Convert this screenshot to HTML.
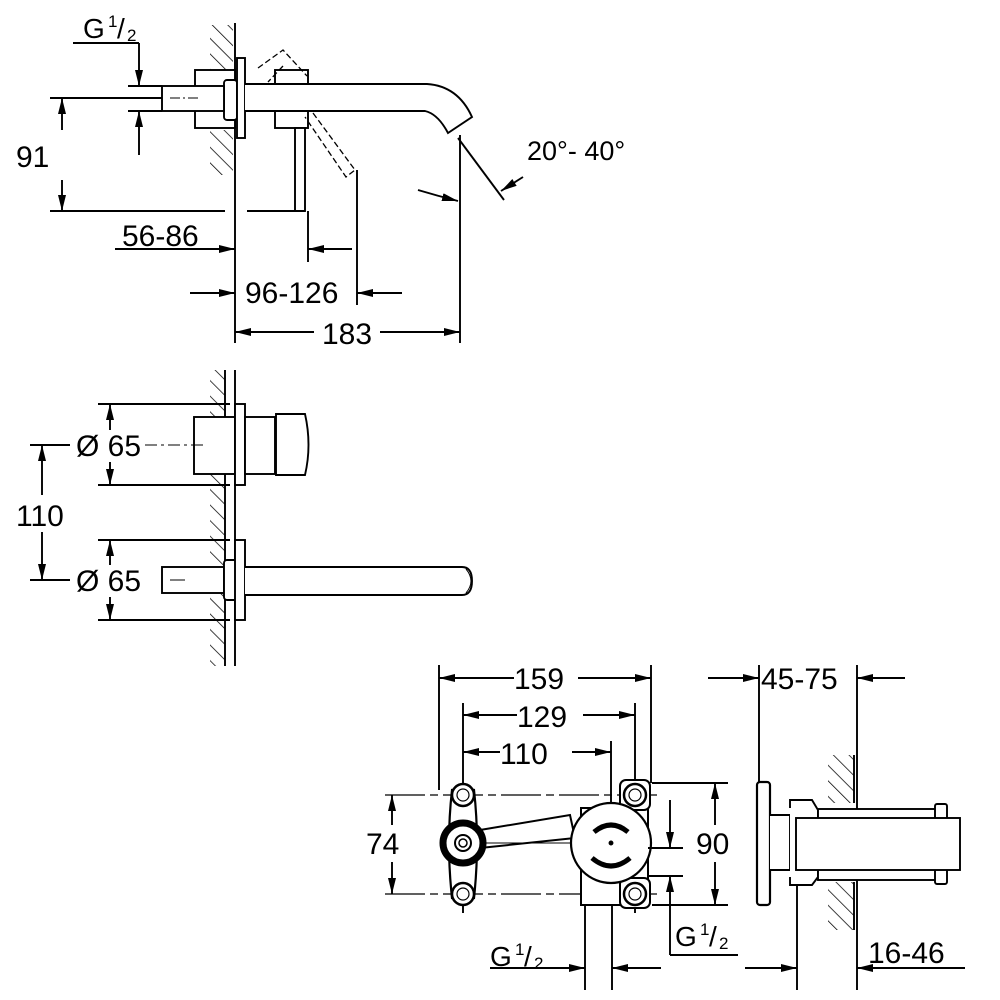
<!DOCTYPE html>
<html><head><meta charset="utf-8"><style>
html,body{margin:0;padding:0;background:#fff}
svg{display:block}
text{font-family:"Liberation Sans",sans-serif;fill:#000}
</style></head><body>
<svg width="1000" height="1000" viewBox="0 0 1000 1000" xmlns="http://www.w3.org/2000/svg">
<defs>
<marker id="a" viewBox="0 0 16 8" refX="16" refY="4" markerWidth="16" markerHeight="8" markerUnits="userSpaceOnUse" orient="auto-start-reverse"><path d="M0,0 L16,4 L0,8 z" fill="#000"/></marker>
<pattern id="h" width="11" height="11" patternUnits="userSpaceOnUse" patternTransform="rotate(-45)"><line x1="0" y1="0" x2="0" y2="11" stroke="#000" stroke-width="1.5"/></pattern>
</defs>
<g stroke="#000" stroke-width="1.9" fill="none">
<!-- ===== TOP VIEW ===== -->
<line x1="235" y1="23" x2="235" y2="343"/>
<rect x="210" y="25" width="23" height="45" fill="url(#h)" stroke="none"/>
<rect x="210" y="130" width="23" height="45" fill="url(#h)" stroke="none"/>
<rect x="195" y="70" width="40" height="58" fill="#fff"/>
<rect x="224" y="80" width="13" height="40" rx="3" fill="#fff"/>
<rect x="237" y="58" width="8" height="80" fill="#fff"/>
<rect x="162" y="86" width="62" height="25" fill="#fff"/>
<line x1="170" y1="98" x2="200" y2="98" stroke-dasharray="10,3,2,3" stroke-width="1"/>
<rect x="275" y="70" width="33" height="58" fill="#fff"/>
<path d="M245,84 L427,84 Q458,86 472,117 L448,133 Q438,114 425,111 L245,111" fill="#fff"/>
<rect x="295" y="128" width="10" height="83" fill="#fff"/>
<path d="M258,68 L283,50 L307,76 M283,66 L268,82" stroke-dasharray="6,3" stroke-width="1.3"/>
<path d="M313,113 L355,170 L346,177 L305,117" stroke-dasharray="6,3" stroke-width="1.3"/>
<!-- G1/2 dims -->
<line x1="73" y1="43" x2="139" y2="43"/>
<line x1="139" y1="43" x2="139" y2="86" marker-end="url(#a)"/>
<line x1="139" y1="155" x2="139" y2="111" marker-end="url(#a)"/>
<line x1="128" y1="86" x2="162" y2="86"/>
<line x1="128" y1="111" x2="162" y2="111"/>
<!-- 91 -->
<line x1="50" y1="98" x2="162" y2="98"/>
<line x1="50" y1="211" x2="225" y2="211"/>
<line x1="247" y1="211" x2="305" y2="211"/>
<line x1="62" y1="130" x2="62" y2="98" marker-end="url(#a)"/>
<line x1="62" y1="180" x2="62" y2="211" marker-end="url(#a)"/>
<line x1="308" y1="211" x2="308" y2="262"/>
<line x1="357" y1="170" x2="357" y2="305"/>
<line x1="460" y1="135" x2="460" y2="343"/>
<line x1="115" y1="249" x2="235" y2="249" marker-end="url(#a)"/>
<line x1="352" y1="249" x2="308" y2="249" marker-end="url(#a)"/>
<line x1="190" y1="293" x2="235" y2="293" marker-end="url(#a)"/>
<line x1="402" y1="293" x2="357" y2="293" marker-end="url(#a)"/>
<line x1="235" y1="332" x2="314" y2="332" marker-start="url(#a)"/>
<line x1="380" y1="332" x2="460" y2="332" marker-end="url(#a)"/>
<line x1="458" y1="138" x2="504" y2="200"/>
<line x1="523" y1="177" x2="501" y2="191" marker-end="url(#a)"/>
<path d="M418,190 Q438,196 458,201" marker-end="url(#a)"/>

<!-- ===== MIDDLE VIEW ===== -->
<rect x="210" y="370" width="15" height="296" fill="url(#h)" stroke="none"/>
<line x1="225" y1="370" x2="225" y2="666"/>
<line x1="235" y1="370" x2="235" y2="666"/>
<rect x="194" y="417" width="41" height="57" fill="#fff"/>
<rect x="235" y="404" width="10" height="81" fill="#fff"/>
<rect x="245" y="417" width="30" height="57" fill="#fff"/>
<path d="M276,414 L305,414 Q312,445 305,475 L276,475 z" fill="#fff"/>
<line x1="145" y1="445" x2="205" y2="445" stroke-dasharray="12,4,3,4" stroke-width="1"/>
<line x1="98" y1="404" x2="230" y2="404"/>
<line x1="98" y1="485" x2="230" y2="485"/>
<line x1="110" y1="430" x2="110" y2="404" marker-end="url(#a)"/>
<line x1="110" y1="462" x2="110" y2="485" marker-end="url(#a)"/>
<line x1="30" y1="445" x2="70" y2="445"/>
<line x1="30" y1="580" x2="70" y2="580"/>
<line x1="42" y1="495" x2="42" y2="445" marker-end="url(#a)"/>
<line x1="42" y1="532" x2="42" y2="580" marker-end="url(#a)"/>
<rect x="162" y="567" width="62" height="26" fill="#fff"/>
<rect x="224" y="560" width="13" height="40" rx="3" fill="#fff"/>
<rect x="235" y="540" width="10" height="80" fill="#fff"/>
<path d="M245,567 L462,567 Q472,567 472,581 Q472,595 462,595 L245,595" fill="#fff"/>
<path d="M466,569 Q476,581 466,593" stroke-width="1"/>
<line x1="170" y1="580" x2="185" y2="580" stroke-width="1"/>
<line x1="98" y1="540" x2="230" y2="540"/>
<line x1="98" y1="620" x2="230" y2="620"/>
<line x1="110" y1="565" x2="110" y2="540" marker-end="url(#a)"/>
<line x1="110" y1="597" x2="110" y2="620" marker-end="url(#a)"/>

<!-- ===== BOTTOM FRONT VIEW ===== -->
<line x1="439" y1="665" x2="439" y2="790"/>
<line x1="651" y1="665" x2="651" y2="783"/>
<line x1="463" y1="703" x2="463" y2="913"/>
<line x1="635" y1="703" x2="635" y2="913"/>
<line x1="611" y1="741" x2="611" y2="843"/>
<line x1="439" y1="678" x2="514" y2="678" marker-start="url(#a)"/>
<line x1="578" y1="678" x2="651" y2="678" marker-end="url(#a)"/>
<line x1="463" y1="715" x2="517" y2="715" marker-start="url(#a)"/>
<line x1="583" y1="715" x2="635" y2="715" marker-end="url(#a)"/>
<line x1="463" y1="752" x2="500" y2="752" marker-start="url(#a)"/>
<line x1="572" y1="752" x2="611" y2="752" marker-end="url(#a)"/>
<line x1="385" y1="795" x2="660" y2="795" stroke-dasharray="40,5,8,5" stroke-width="1.2"/>
<line x1="385" y1="894" x2="660" y2="894" stroke-dasharray="40,5,8,5" stroke-width="1.2"/>
<line x1="392" y1="825" x2="392" y2="795" marker-end="url(#a)"/>
<line x1="392" y1="862" x2="392" y2="894" marker-end="url(#a)"/>
<path d="M452,790 Q446,843 452,898 L474,898 Q480,843 474,790 z" fill="#fff" stroke-width="2.2"/>
<path d="M480,830 L570,815 L575,838 L480,848" fill="#fff" stroke-width="2"/>
<line x1="482" y1="843" x2="572" y2="843" stroke-width="1"/>
<rect x="581" y="808" width="67" height="97" fill="#fff" stroke-width="2"/>
<rect x="620" y="780" width="30" height="30" rx="6" fill="#fff" stroke-width="2"/>
<rect x="620" y="878" width="30" height="30" rx="6" fill="#fff" stroke-width="2"/>
<circle cx="611" cy="843" r="40" fill="#fff" stroke-width="2.2"/>
<path d="M594,832 Q611,818 628,832" stroke-width="5"/>
<path d="M592,858 Q611,874 630,858" stroke-width="5"/>
<circle cx="611" cy="843" r="1.5" fill="#000"/>
<circle cx="463" cy="843" r="20" fill="#fff" stroke-width="7"/>
<circle cx="463" cy="843" r="8" stroke-width="2"/>
<circle cx="463" cy="843" r="4" stroke-width="1.5"/>
<g stroke-width="2.5" fill="#fff">
<circle cx="463" cy="795" r="11"/><circle cx="463" cy="894" r="11"/>
<circle cx="635" cy="795" r="11"/><circle cx="635" cy="894" r="11"/>
</g>
<g stroke-width="1.2">
<circle cx="463" cy="795" r="6"/><circle cx="463" cy="894" r="6"/>
<circle cx="635" cy="795" r="6"/><circle cx="635" cy="894" r="6"/>
</g>
<line x1="652" y1="783" x2="728" y2="783"/>
<line x1="652" y1="905" x2="728" y2="905"/>
<line x1="715" y1="825" x2="715" y2="783" marker-end="url(#a)"/>
<line x1="715" y1="862" x2="715" y2="905" marker-end="url(#a)"/>
<line x1="648" y1="848" x2="683" y2="848"/>
<line x1="648" y1="876" x2="683" y2="876"/>
<line x1="670" y1="800" x2="670" y2="848" marker-end="url(#a)"/>
<line x1="670" y1="955" x2="670" y2="876" marker-end="url(#a)"/>
<line x1="670" y1="955" x2="738" y2="955"/>
<line x1="585" y1="905" x2="585" y2="990"/>
<line x1="612" y1="905" x2="612" y2="990"/>
<line x1="490" y1="968" x2="585" y2="968" marker-end="url(#a)"/>
<line x1="661" y1="968" x2="612" y2="968" marker-end="url(#a)"/>

<!-- ===== SIDE VIEW ===== -->
<line x1="759" y1="665" x2="759" y2="905"/>
<line x1="857" y1="665" x2="857" y2="990"/>
<line x1="797" y1="880" x2="797" y2="990"/>
<line x1="708" y1="678" x2="759" y2="678" marker-end="url(#a)"/>
<line x1="905" y1="678" x2="857" y2="678" marker-end="url(#a)"/>
<line x1="745" y1="968" x2="797" y2="968" marker-end="url(#a)"/>
<line x1="965" y1="968" x2="857" y2="968" marker-end="url(#a)"/>
<rect x="828" y="755" width="26" height="48" fill="url(#h)" stroke="none"/>
<rect x="828" y="882" width="26" height="48" fill="url(#h)" stroke="none"/>
<line x1="854" y1="755" x2="854" y2="803"/>
<line x1="854" y1="882" x2="854" y2="930"/>
<rect x="757" y="782" width="13" height="123" rx="3" fill="#fff" stroke-width="2.2"/>
<path d="M770,815 L790,815 L790,870 L770,870" fill="#fff"/>
<path d="M790,808 L790,800 L812,800 L818,810 L818,877 L812,885 L790,885 L790,877" fill="#fff"/>
<rect x="818" y="809" width="120" height="71" fill="#fff"/>
<rect x="935" y="804" width="12" height="80" rx="2" fill="#fff"/>
<rect x="796" y="818" width="164" height="52" fill="#fff"/>
</g>

<!-- TEXT -->
<g font-size="30">
<text x="83" y="38" font-size="28">G</text><text x="108" y="27" font-size="17">1</text><text x="117" y="38" font-size="28">/</text><text x="127" y="41" font-size="17">2</text>
<text x="16" y="167">91</text>
<text x="122" y="246">56-86</text>
<text x="245" y="303">96-126</text>
<text x="322" y="344">183</text>
<text x="527" y="160" font-size="27">20°- 40°</text>
<text x="76" y="456">Ø 65</text>
<text x="76" y="591">Ø 65</text>
<text x="16" y="526">110</text>
<text x="514" y="689">159</text>
<text x="517" y="727">129</text>
<text x="500" y="764">110</text>
<text x="366" y="854">74</text>
<text x="696" y="854">90</text>
<text x="675" y="946" font-size="28">G</text><text x="700" y="935" font-size="17">1</text><text x="709" y="946" font-size="28">/</text><text x="719" y="949" font-size="17">2</text>
<text x="490" y="966" font-size="28">G</text><text x="515" y="955" font-size="17">1</text><text x="524" y="966" font-size="28">/</text><text x="534" y="969" font-size="17">2</text>
<text x="761" y="689">45-75</text>
<text x="868" y="963">16-46</text>
</g>
</svg>
</body></html>
